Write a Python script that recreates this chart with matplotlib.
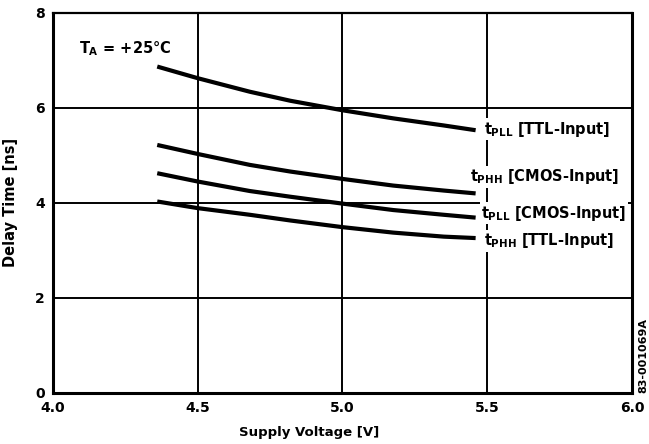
import matplotlib
matplotlib.use('Agg')
import matplotlib.pyplot as plt

plt.rcParams['font.family'] = ['DejaVu Sans']
plt.rcParams['font.weight'] = 'bold'
plt.rcParams['mathtext.fontset'] = 'custom'
plt.rcParams['mathtext.rm'] = 'DejaVu Sans:bold'
plt.rcParams['mathtext.it'] = 'DejaVu Sans:bold'
plt.rcParams['mathtext.bf'] = 'DejaVu Sans:bold'

# Supply voltage [V] and delay times [ns]
voltage = [4.36, 4.5, 4.68, 4.82, 5.0, 5.175, 5.35, 5.46]
tpll_ttl = [6.87, 6.625, 6.34, 6.15, 5.95, 5.78, 5.63, 5.53]
tphh_cmos = [5.22, 5.03, 4.80, 4.66, 4.505, 4.365, 4.26, 4.20]
tpll_cmos = [4.625, 4.45, 4.25, 4.13, 3.985, 3.85, 3.75, 3.69]
tphh_ttl = [4.03, 3.89, 3.75, 3.63, 3.49, 3.375, 3.29, 3.26]

x_ticks = [4.0, 4.5, 5.0, 5.5, 6.0]
y_ticks = [0, 2, 4, 6, 8]

fig = plt.figure(figsize=(6.49, 4.44), dpi=100)
ax = fig.add_axes([0.0817, 0.115, 0.892, 0.856])

for v in x_ticks[1:-1]:
    ax.axvline(v, color='black', lw=1.4, zorder=1)
for d in y_ticks[1:-1]:
    ax.axhline(d, color='black', lw=1.4, zorder=1)

for s in [tpll_ttl, tphh_cmos, tpll_cmos, tphh_ttl]:
    ax.plot(voltage, s, color='black', lw=3.0, solid_capstyle='butt', zorder=3)

box = dict(facecolor='white', edgecolor='none', pad=1.0)
ax.text(5.49, 5.55, r'$t_{PLL}$ [TTL-Input]', fontsize=10.5, va='center', ha='left', bbox=box, zorder=4)
ax.text(5.44, 4.55, r'$t_{PHH}$ [CMOS-Input]', fontsize=10.5, va='center', ha='left', bbox=box, zorder=4)
ax.text(5.48, 3.78, r'$t_{PLL}$ [CMOS-Input]', fontsize=10.5, va='center', ha='left', bbox=box, zorder=4)
ax.text(5.49, 3.2, r'$t_{PHH}$ [TTL-Input]', fontsize=10.5, va='center', ha='left', bbox=box, zorder=4)

ax.text(4.09, 7.25, r'$T_A$ = +25°C', fontsize=10.5, va='center', ha='left')

ax.set_xlim(4.0, 6.0)
ax.set_ylim(0, 8)
ax.set_xticks(x_ticks)
ax.set_xticklabels(['4.0', '4.5', '5.0', '5.5', '6.0'])
ax.set_yticks(y_ticks)
ax.tick_params(length=0, labelsize=10, pad=6)
ax.set_xlabel('Supply Voltage [V]', fontsize=9.5, fontweight='bold')
ax.xaxis.set_label_coords(0.442, -0.088)
ax.set_ylabel('Delay Time [ns]', fontsize=10.5, fontweight='bold', labelpad=12)

for side in ['left', 'bottom', 'right']:
    ax.spines[side].set_linewidth(2.2)
ax.spines['top'].set_linewidth(1.6)

fig.text(0.991, 0.2, '83-001069A', rotation=90, fontsize=8, ha='center', va='center')

fig.savefig('out.png', dpi=100)
